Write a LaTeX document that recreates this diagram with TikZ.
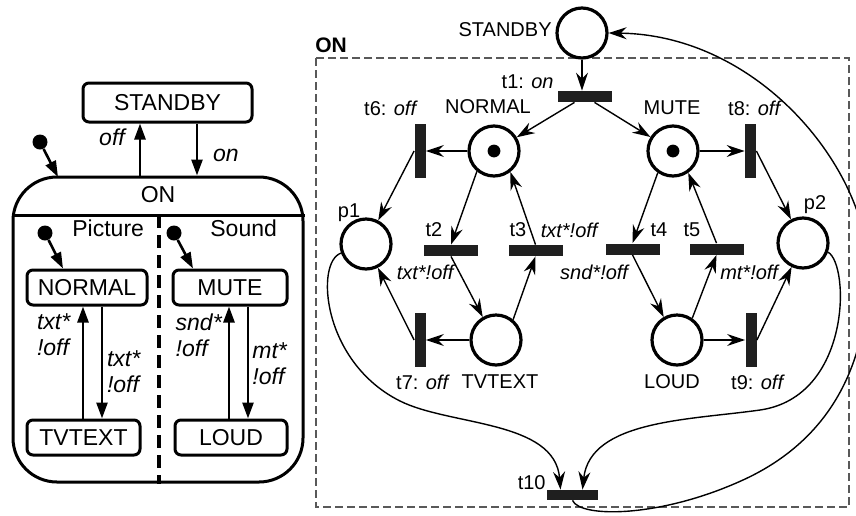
\documentclass[tikz,border=0pt]{standalone}
\usepackage{fontspec}
\setmainfont{Liberation Sans}
\usetikzlibrary{arrows.meta,calc}
\begin{document}
\begin{tikzpicture}[x=0.5pt,y=-0.5pt,
  lfont/.style={font=\fontsize{11.5}{13}\selectfont},
  rfont/.style={font=\fontsize{10}{12}\selectfont},
  lbox/.style={draw,line width=1.5pt,rounded corners=3pt,minimum height=17.5pt,inner sep=1pt,lfont},
  larr/.style={line width=1.3pt,-{Triangle[length=8pt,width=5.5pt]}},
  dotst/.style={circle,fill,inner sep=0,minimum size=7.5pt},
  place/.style={circle,draw,line width=1.6pt,minimum size=25pt,inner sep=0},
  htr/.style={fill=black!88,inner sep=0,minimum width=27pt,minimum height=5.5pt},
  vtr/.style={fill=black!88,inner sep=0,minimum width=5.5pt,minimum height=27pt},
  parr/.style={line width=0.7pt,-{Stealth[length=9pt,width=6pt,inset=3pt]}},
  lab/.style={inner sep=0,rfont},
  llab/.style={inner sep=0,lfont},
]
\useasboundingbox (0,0) rectangle (856,515);

% ---------------- left statechart ----------------
\node[lbox,minimum width=84.5pt,minimum height=19.5pt] (lsb) at (167.5,102.5) {STANDBY};
\node[draw,line width=1.5pt,rounded corners=22pt,minimum width=145pt,minimum height=152.5pt,inner sep=0] (lon) at (158,329.5) {};
\node[llab] (lonl) at (158,195) {ON};
\draw[line width=1.5pt] (lon.west |- 0,215) -- (lon.east |- 0,215);
\draw[line width=1.7pt,dash pattern=on 6.5pt off 3.5pt] (159,215) -- (lon.south -| 159,0);

\node[dotst] (ini) at (40,142) {};
\coordinate (inie) at (58,177);
\draw[larr] (ini) -- (inie);

\node[llab,anchor=west] (lpic) at (72,228) {Picture};
\node[llab,anchor=west] (lsnd) at (210,228) {Sound};

\node[lbox,minimum width=60pt] (lnorm) at (87,287.5) {NORMAL};
\node[lbox,minimum width=57pt] (lmute) at (230,287.5) {MUTE};
\node[lbox,minimum width=56.5pt] (ltv) at (83.5,437.5) {TVTEXT};
\node[lbox,minimum width=56pt] (lloud) at (231,437.5) {LOUD};

\node[dotst] (ipic) at (45,233) {};
\node[dotst] (isnd) at (174,233) {};
\draw[larr] (ipic) -- (lnorm.north -| 63,0);
\draw[larr] (isnd) -- (lmute.north -| 193,0);

\draw[larr] (ltv.north -| 83,0) -- (lnorm.south -| 83,0);
\draw[larr] (lnorm.south -| 102,0) -- (ltv.north -| 102,0);
\draw[larr] (lloud.north -| 229,0) -- (lmute.south -| 229,0);
\draw[larr] (lmute.south -| 248,0) -- (lloud.north -| 248,0);
\draw[larr] (lon.north -| 140,0) -- (lsb.south -| 140,0);
\draw[larr] (lsb.south -| 197,0) -- (lon.north -| 197,0);

\node[llab] (loff) at (113,137) {\textit{off}};
\node[llab] (lonlab) at (226,155) {\textit{on}};
\node[llab,align=left] (lt1) at (54,335) {\textit{txt*}\\\textit{!off}};
\node[llab,align=left] (lt2) at (124,372) {\textit{txt*}\\\textit{!off}};
\node[llab,align=left] (lt3) at (199,335) {\textit{snd*}\\\textit{!off}};
\node[llab,align=left] (lt4) at (270,364) {\textit{mt*}\\\textit{!off}};

% ---------------- right Petri net ----------------
\draw[black!65,line width=0.6pt,dash pattern=on 4pt off 2pt] (316,58) rectangle (849,507);
\node[font=\bfseries\fontsize{10.5}{12}\selectfont,inner sep=0] (onl) at (331,45) {ON};

\node[place] (sbP) at (582,33) {};
\node[place] (nP) at (494,151) {};
\node[place] (mP) at (673,151) {};
\node[place] (p1) at (366,244) {};
\node[place] (p2) at (803,243) {};
\node[place] (tvP) at (496,340) {};
\node[place] (lP) at (677,340) {};
\fill (nP) circle (3.2pt);
\fill (mP) circle (3.2pt);

\node[htr] (t1) at (584.5,96.5) {};
\node[vtr] (t6) at (420,151) {};
\node[vtr] (t8) at (750.5,151) {};
\node[htr] (t2) at (451,250.5) {};
\node[htr] (t3) at (535.5,250.5) {};
\node[htr] (t4) at (632.5,249) {};
\node[htr] (t5) at (716.5,249) {};
\node[vtr] (t7) at (420,340) {};
\node[vtr] (t9) at (751,340) {};
\node[htr,minimum width=25.5pt,minimum height=5pt] (t10) at (572.5,495) {};

\node[lab,anchor=east] (lbsb) at (552,30) {STANDBY};
\node[lab,anchor=east] (lbt1) at (554,82) {t1: \textit{on}};
\node[lab] (lbn) at (488,107) {NORMAL};
\node[lab] (lbm) at (672,108) {MUTE};
\node[lab] (lbt6) at (391,108) {t6: \textit{off}};
\node[lab] (lbt8) at (755,108) {t8: \textit{off}};
\node[lab] (lbp1) at (349,213) {p1};
\node[lab] (lbp2) at (815,205) {p2};
\node[lab] (lbt2) at (434,230) {t2};
\node[lab] (lbt2b) at (426,272) {\textit{txt*!off}};
\node[lab] (lbt3) at (518,230) {t3};
\node[lab] (lbt3b) at (570,230) {\textit{txt*!off}};
\node[lab] (lbt4) at (659,230) {t4};
\node[lab] (lbt5) at (692,230) {t5};
\node[lab] (lbt4b) at (595,272) {\textit{snd*!off}};
\node[lab] (lbt5b) at (750,272) {\textit{mt*!off}};
\node[lab] (lbt7) at (423,382) {t7: \textit{off}};
\node[lab] (lbtv) at (500,382) {TVTEXT};
\node[lab] (lbl) at (672,382) {LOUD};
\node[lab] (lbt9) at (758,382) {t9: \textit{off}};
\node[lab,anchor=east] (lbt10) at (546,483) {t10};

\draw[parr] (sbP) -- (t1.north -| sbP);
\draw[parr] ([xshift=-5pt]t1.south) -- (nP);
\draw[parr] ([xshift=5pt]t1.south) -- (mP);
\draw[parr] (nP) -- (t6.east);
\draw[parr] (mP) -- (t8.west);
\draw[parr] (t6.west) -- (p1);
\draw[parr] (t8.east) -- (p2);
\draw[parr] (nP.230) -- (t2.north);
\draw[parr] (t2.south) -- (tvP.120);
\draw[parr] (tvP.50) -- (t3.south);
\draw[parr] (t3.north) -- (nP.-52);
\draw[parr] (tvP) -- (t7.east);
\draw[parr] (t7.west) -- (p1);
\draw[parr] (mP.235) -- (t4.north);
\draw[parr] (t4.south) -- (lP.120);
\draw[parr] (lP.55) -- (t5.south);
\draw[parr] (t5.north) -- (mP.-55);
\draw[parr] (lP) -- (t9.west);
\draw[parr] (t9.east) -- (p2);

\draw[parr] (p1.200) .. controls (315,262) and (322,362) .. (400,401)
  .. controls (450,426) and (555,420) .. ([xshift=-6pt]t10.north);
\draw[parr] (p2.-20) .. controls (850,265) and (851,397) .. (760,410)
  .. controls (690,420) and (590,420) .. ([xshift=5pt]t10.north);
\draw[parr] (t10.south) .. controls (580,518) and (660,518) .. (743,480)
  .. controls (826,442) and (868,370) .. (868,270)
  .. controls (868,170) and (760,35) .. (sbP.east);
\end{tikzpicture}
\end{document}
